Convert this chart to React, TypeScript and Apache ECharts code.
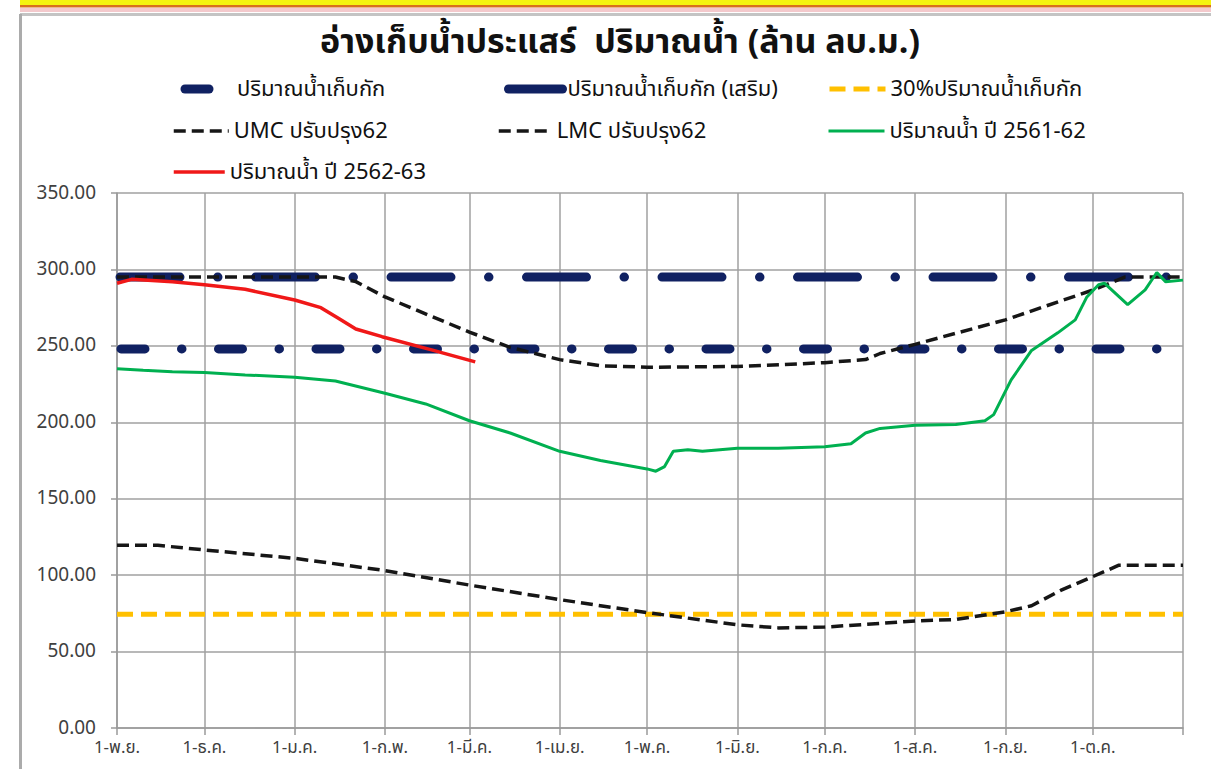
import React, { useEffect, useRef } from 'react';
import * as echarts from 'echarts';

const FONT = "Tahoma, 'Noto Sans Thai', 'Noto Sans', 'DejaVu Sans', sans-serif";

const thaiMonths = ['ม.ค.', 'ก.พ.', 'มี.ค.', 'เม.ย.', 'พ.ค.', 'มิ.ย.', 'ก.ค.', 'ส.ค.', 'ก.ย.', 'ต.ค.', 'พ.ย.', 'ธ.ค.'];
const firstDay = '2019-11-01';
const lastDay = '2020-11-01';

const titleText = 'อ่างเก็บน้ำประแสร์  ปริมาณน้ำ (ล้าน ลบ.ม.)';

const seriesNames = [
  'ปริมาณน้ำเก็บกัก',
  'ปริมาณน้ำเก็บกัก (เสริม)',
  '30%ปริมาณน้ำเก็บกัก',
  'UMC ปรับปรุง62',
  'LMC ปรับปรุง62',
  'ปริมาณน้ำ ปี 2561-62',
  'ปริมาณน้ำ ปี 2562-63',
];

const storage = 248;
const storageRaised = 295;
const storage30 = 74.4;

const umc: [string, number][] = [
  ['2019-11-01', 295], ['2020-01-15', 295], ['2020-01-22', 292], ['2020-02-01', 282],
  ['2020-03-01', 259], ['2020-03-15', 249], ['2020-04-01', 241], ['2020-04-15', 237],
  ['2020-05-01', 236], ['2020-06-01', 236.5], ['2020-07-01', 239], ['2020-07-15', 241],
  ['2020-07-20', 245], ['2020-08-01', 251], ['2020-09-01', 267], ['2020-10-01', 286.5],
  ['2020-10-12', 295], ['2020-11-01', 295],
];

const lmc: [string, number][] = [
  ['2019-11-01', 119.5], ['2019-11-15', 119.5], ['2019-12-01', 116.5], ['2020-01-01', 111],
  ['2020-02-01', 103], ['2020-03-01', 93.5], ['2020-04-01', 84], ['2020-05-01', 75.5],
  ['2020-06-01', 67.5], ['2020-06-15', 65.5], ['2020-07-01', 66], ['2020-08-01', 70],
  ['2020-08-15', 71], ['2020-09-01', 76], ['2020-09-10', 80], ['2020-09-20', 90],
  ['2020-10-01', 99], ['2020-10-10', 106.5], ['2020-11-01', 106.5],
];

const water6162: [string, number][] = [
  ['2019-11-01', 235], ['2019-11-10', 234], ['2019-11-20', 233], ['2019-12-01', 232.5],
  ['2019-12-15', 231], ['2020-01-01', 229.5], ['2020-01-15', 227], ['2020-02-01', 219],
  ['2020-02-15', 212], ['2020-03-01', 201], ['2020-03-15', 193], ['2020-04-01', 181],
  ['2020-04-15', 175], ['2020-05-01', 169.5], ['2020-05-04', 168], ['2020-05-07', 171],
  ['2020-05-10', 181], ['2020-05-15', 182], ['2020-05-20', 181], ['2020-06-01', 183],
  ['2020-06-15', 183], ['2020-07-01', 184], ['2020-07-10', 186], ['2020-07-15', 193],
  ['2020-07-20', 196], ['2020-08-01', 198], ['2020-08-15', 198.5], ['2020-08-25', 201],
  ['2020-08-28', 205], ['2020-09-03', 227.7], ['2020-09-10', 247], ['2020-09-19', 258.5],
  ['2020-09-25', 267], ['2020-09-29', 282], ['2020-10-03', 290], ['2020-10-05', 291],
  ['2020-10-13', 277], ['2020-10-19', 286.6], ['2020-10-23', 298], ['2020-10-26', 292],
  ['2020-11-01', 293],
];

const water6263: [string, number][] = [
  ['2019-11-01', 291], ['2019-11-06', 293.5], ['2019-11-20', 292], ['2019-12-01', 290],
  ['2019-12-15', 287], ['2020-01-01', 280], ['2020-01-10', 275], ['2020-01-16', 268],
  ['2020-01-22', 261], ['2020-01-31', 256], ['2020-02-17', 247.4], ['2020-03-03', 239.5],
];

function buildDays(): string[] {
  const out: string[] = [];
  const start = Date.UTC(2019, 10, 1);
  const end = Date.UTC(2020, 10, 1);
  for (let t = start; t <= end; t += 86400000) {
    out.push(new Date(t).toISOString().slice(0, 10));
  }
  return out;
}

const days = buildDays();
const isMonthStart = (_i: number, v: string) => v.slice(8, 10) === '01';

function buildOption(): any {
  const navy = '#102162';
  const black = '#161616';
  const yellow = '#FFC000';
  const green = '#00B050';
  const red = '#F01818';
  const legendBase = {
    padding: 0,
    selectedMode: false,
    itemHeight: 14,
    itemStyle: { opacity: 0 },
    textStyle: { fontSize: 22, color: '#111111', fontFamily: FONT },
  };
  const legendSpec: { name: string; left: number; top: number; w: number; ls: any }[] = [
    { name: seriesNames[0], left: 176.5, top: 85, w: 51, ls: { color: navy, type: [24, 200], cap: 'round', width: 9 } },
    { name: seriesNames[1], left: 504, top: 85, w: 54, ls: { color: navy, type: 'solid', cap: 'round', width: 9 } },
    { name: seriesNames[2], left: 827, top: 85, w: 56, ls: { color: yellow, type: [16, 8], width: 5 } },
    { name: seriesNames[3], left: 172, top: 127, w: 55, ls: { color: black, type: [12, 6], width: 3.5 } },
    { name: seriesNames[4], left: 497, top: 127, w: 53, ls: { color: black, type: [12, 6], width: 3.5 } },
    { name: seriesNames[5], left: 827, top: 127, w: 56, ls: { color: green, type: 'solid', width: 3 } },
    { name: seriesNames[6], left: 172, top: 168, w: 51, ls: { color: red, type: 'solid', width: 3.5 } },
  ];
  const legend = legendSpec.map((l) => ({
    ...legendBase,
    data: [l.name],
    left: l.left,
    top: l.top - 7,
    itemWidth: l.w,
    lineStyle: l.ls,
  }));

  const flat = (v: number): [string, number][] => [[firstDay, v], [lastDay, v]];

  return {
    animation: false,
    backgroundColor: '#ffffff',
    textStyle: { fontFamily: FONT },
    graphic: [
      { type: 'rect', shape: { x: 20, y: 0, width: 1191, height: 5 }, style: { fill: '#F4F410' }, silent: true },
      { type: 'rect', shape: { x: 20, y: 5, width: 1191, height: 2.5 }, style: { fill: '#D8701C' }, silent: true },
      { type: 'rect', shape: { x: 20, y: 8, width: 1191, height: 4 }, style: { fill: '#F3C9CC' }, silent: true },
      { type: 'rect', shape: { x: 20, y: 13, width: 1191, height: 3 }, style: { fill: '#C4C4C4' }, silent: true },
      { type: 'rect', shape: { x: 19, y: 14, width: 3, height: 755 }, style: { fill: '#ABABAB' }, silent: true },
      {
        type: 'text',
        x: 620,
        y: 42,
        silent: true,
        style: {
          text: titleText,
          fontSize: 34,
          fontWeight: 'bold',
          fontFamily: FONT,
          fill: '#111111',
          align: 'center',
          verticalAlign: 'middle',
        },
      },
    ],
    legend,
    grid: { left: 117, right: 28, top: 193, bottom: 41, containLabel: false },
    xAxis: {
      type: 'category',
      data: days,
      boundaryGap: false,
      axisLine: { show: true, lineStyle: { color: '#9A9A9A', width: 1.5 } },
      axisTick: { show: true, interval: isMonthStart, length: 7, lineStyle: { color: '#9A9A9A', width: 1.5 } },
      splitLine: { show: true, interval: isMonthStart, lineStyle: { color: '#A0A0A0', width: 1.5 } },
      axisLabel: {
        interval: isMonthStart,
        margin: 11,
        fontSize: 17,
        color: '#404040',
        fontFamily: FONT,
        formatter: (v: string, i: number) => (i === days.length - 1 ? '' : `1-${thaiMonths[parseInt(v.slice(5, 7), 10) - 1]}`),
      },
    },
    yAxis: {
      type: 'value',
      min: 0,
      max: 350,
      interval: 50,
      axisLine: { show: true, lineStyle: { color: '#9A9A9A', width: 1.5 } },
      axisTick: { show: true, length: 6, lineStyle: { color: '#9A9A9A', width: 1.5 } },
      splitLine: { show: true, lineStyle: { color: '#A0A0A0', width: 1.5 } },
      axisLabel: {
        margin: 21,
        fontSize: 19,
        color: '#404040',
        fontFamily: FONT,
        formatter: (v: number) => v.toFixed(2),
      },
    },
    series: [
      {
        name: seriesNames[0], type: 'line', data: flat(storage), symbol: 'none',
        lineStyle: { color: navy, width: 9, type: [24, 36.5, 0.5, 36.5], cap: 'round', dashOffset: -4 },
        itemStyle: { color: navy },
      },
      {
        name: seriesNames[1], type: 'line', data: flat(storageRaised), symbol: 'none',
        lineStyle: { color: navy, width: 9, type: [60, 37.5, 0.5, 37.5], cap: 'round', dashOffset: -3.5 },
        itemStyle: { color: navy },
      },
      {
        name: seriesNames[2], type: 'line', data: flat(storage30), symbol: 'none',
        lineStyle: { color: yellow, width: 5, type: [16, 8], cap: 'butt' },
        itemStyle: { color: yellow },
      },
      {
        name: seriesNames[3], type: 'line', data: umc, symbol: 'none',
        lineStyle: { color: black, width: 3.5, type: [12, 6] },
        itemStyle: { color: black },
      },
      {
        name: seriesNames[4], type: 'line', data: lmc, symbol: 'none',
        lineStyle: { color: black, width: 3.5, type: [12, 6] },
        itemStyle: { color: black },
      },
      {
        name: seriesNames[5], type: 'line', data: water6162, symbol: 'none',
        lineStyle: { color: green, width: 3 },
        itemStyle: { color: green },
      },
      {
        name: seriesNames[6], type: 'line', data: water6263, symbol: 'none',
        lineStyle: { color: red, width: 3.5 },
        itemStyle: { color: red },
      },
    ],
  };
}

export default function App() {
  const ref = useRef<HTMLDivElement>(null);
  useEffect(() => {
    if (!ref.current) return;
    const chart = echarts.init(ref.current, null, { renderer: 'svg' });
    chart.setOption(buildOption());
    return () => chart.dispose();
  }, []);
  return (
    <div
      ref={ref}
      style={{ position: 'fixed', left: 0, top: 0, width: 1211, height: 769, background: '#ffffff' }}
    />
  );
}
